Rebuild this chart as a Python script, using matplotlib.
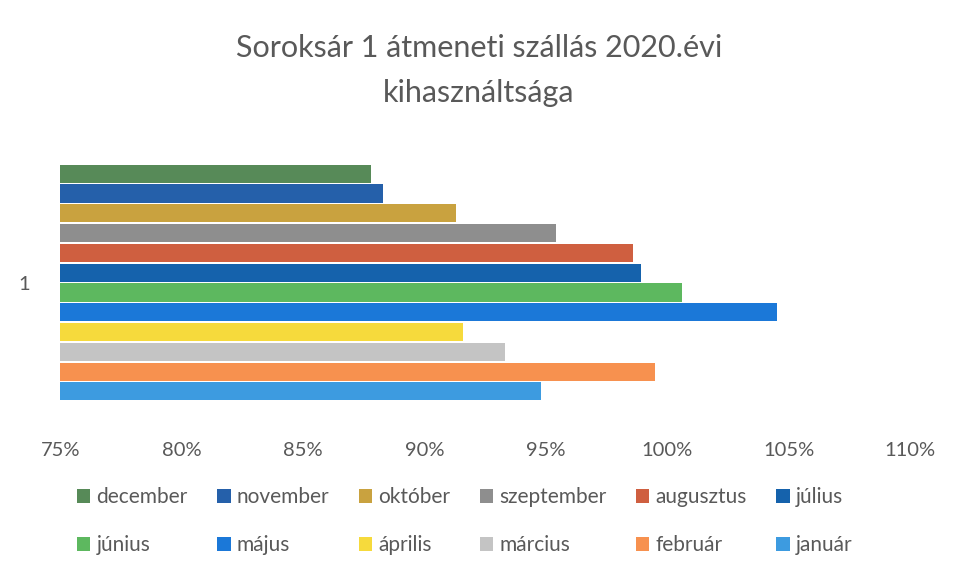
import matplotlib.pyplot as plt
import numpy as np
from matplotlib.ticker import FuncFormatter

plt.rcParams['font.family'] = ['Lato', 'DejaVu Sans']

months = ['január', 'február', 'március', 'április', 'május', 'június',
          'július', 'augusztus', 'szeptember', 'október', 'november', 'december']
usage = [0.948, 0.995, 0.933, 0.916, 1.045, 1.006,
         0.989, 0.986, 0.954, 0.913, 0.883, 0.878]
colors = ['#3d9be0', '#f7914f', '#c4c4c4', '#f6da3c', '#1b78d8', '#5db85f',
          '#1562ac', '#cf5f40', '#8e8e8e', '#c9a23f', '#2560aa', '#578a58']
xticks = [0.75, 0.80, 0.85, 0.90, 0.95, 1.00, 1.05, 1.10]

fig = plt.figure(figsize=(9.58, 5.64), dpi=100)
ax = fig.add_axes([0.063, 0.285, 0.887, 0.428])

pos = np.arange(len(months))
bars = []
for i, (m, v) in enumerate(zip(months, usage)):
    b = ax.barh(pos[i], v - 0.75, left=0.75, height=0.92, color=colors[i], label=m)
    bars.append(b)

ax.set_xlim(0.75, 1.10)
ax.set_ylim(-0.6, 11.6)
ax.set_xticks(xticks)
ax.xaxis.set_major_formatter(FuncFormatter(lambda x, _: f'{x*100:.0f}%'))
ax.set_yticks([5.5])
ax.set_yticklabels(['1'])
ax.tick_params(axis='both', length=0, labelsize=14.5, colors='#595959')
ax.tick_params(axis='x', pad=28)
ax.tick_params(axis='y', pad=22)
for s in ax.spines.values():
    s.set_visible(False)

fig.suptitle('Soroksár 1 átmeneti szállás 2020.évi\nkihasználtsága', y=0.94,
             fontsize=22, color='#595959', linespacing=1.75)

# legend: row 1 december..július, row 2 június..január
top = list(range(11, 5, -1))
bottom = list(range(5, -1, -1))
order = []
for a, b in zip(top, bottom):
    order += [bars[a], bars[b]]
fig.legend(handles=order, labels=[h.get_label() for h in order], ncol=6,
           loc='lower center', bbox_to_anchor=(0.485, -0.018), frameon=False,
           fontsize=15, labelcolor='#595959', handlelength=0.65, handleheight=0.65,
           handletextpad=0.3, columnspacing=1.4, labelspacing=1.35)

fig.savefig('out.png', dpi=100)
